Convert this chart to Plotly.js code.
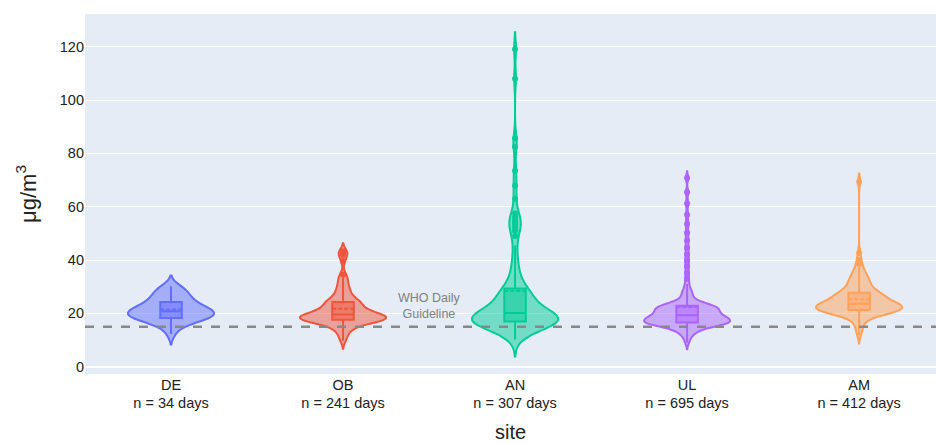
<!DOCTYPE html>
<html>
<head>
<meta charset="utf-8">
<script src="https://cdn.plot.ly/plotly-3.0.1.min.js"></script>
<style>html,body{margin:0;padding:0;background:#fff;overflow:hidden}</style>
</head>
<body>
<div id="chart" style="width:936px;height:443px"></div>
<script>
const categories = ['DE', 'OB', 'AN', 'UL', 'AM'];
const dayCounts = [34, 241, 307, 695, 412];
const guidelineValue = 15;

const valuesDE = [12.3, 14.8, 16.0, 16.9, 17.4, 17.8, 18.0, 18.2, 18.3, 18.6,
  19.0, 19.4, 19.8, 20.1, 20.4, 20.6, 20.7, 20.8, 21.2, 21.6, 22.0, 22.3, 22.7,
  23.3, 23.8, 24.3, 24.9, 25.6, 26.3, 27.0, 27.8, 28.6, 29.4, 30.2];

const valuesOB = [9.7, 11.2, 12.4, 13.3, 14.0, 14.6, 15.1, 15.5, 15.9, 16.2,
  16.5, 16.7, 16.9, 17.0, 17.1, 17.2, 17.3, 17.4, 17.5, 17.6,
  17.7, 17.8, 17.9, 18.0, 18.1, 18.2, 18.3, 18.4, 18.5, 18.6,
  18.7, 18.8, 18.9, 19.0, 19.1, 19.3, 19.4, 19.5, 19.6, 19.7,
  19.9, 20.1, 20.3, 20.5, 20.7, 20.9, 21.1, 21.3, 21.6, 21.9,
  22.2, 22.5, 22.8, 23.1, 23.4, 23.7, 24.0, 24.2, 24.4, 24.5,
  24.9, 25.4, 25.9, 26.5, 27.1, 27.8, 28.5, 29.3, 30.2, 31.2,
  32.3, 33.5, 34.6, 39.6, 41.9, 42.6, 43.3];

const valuesAN = [10.2, 11.5, 12.3, 12.9, 13.4, 13.8, 14.1, 14.4, 14.7, 15.0,
  15.2, 15.4, 15.6, 15.8, 16.0, 16.1, 16.2, 16.3, 16.4, 16.5,
  16.6, 16.7, 16.8, 16.85, 16.9,
  16.95, 17.1, 17.2, 17.35, 17.5, 17.6, 17.75, 17.9, 18.0, 18.15, 18.3, 18.4, 18.55,
  18.7, 18.8, 18.95, 19.1, 19.2, 19.35, 19.5, 19.6, 19.75, 19.9, 20.0, 20.05, 20.15,
  20.4, 20.8, 21.1, 21.5, 21.9, 22.2, 22.6, 23.0, 23.3, 23.7, 24.1, 24.4, 24.8,
  25.2, 25.5, 25.9, 26.3, 26.6, 27.0, 27.4, 27.8, 28.2, 28.6, 29.1, 29.6,
  30.3, 31.2, 32.4, 33.8, 35.3, 37.0, 39.2, 42.0, 45.5,
  49.0, 51.0, 52.3, 53.4, 54.2, 55.0, 56.1, 57.5,
  63.0, 68.0, 73.5, 82.5, 85.7, 108.0, 119.1];

const valuesUL = [9.0, 10.5, 11.5, 12.3, 12.9, 13.4, 13.8, 14.1, 14.4, 14.7,
  14.9, 15.1, 15.3, 15.5, 15.6, 15.7, 15.8, 15.9, 16.0, 16.1,
  16.15, 16.2, 16.25, 16.3, 16.35, 16.4, 16.5, 16.55, 16.6, 16.65, 16.75,
  16.85, 16.95, 17.05, 17.15, 17.25, 17.35, 17.45, 17.55, 17.65, 17.75, 17.85, 17.95,
  18.05, 18.15, 18.25, 18.35, 18.45, 18.55, 18.65, 18.75, 18.85, 18.95, 19.05, 19.15,
  19.25, 19.35, 19.45, 19.55, 19.65,
  19.95, 20.1, 20.2, 20.35, 20.45, 20.6, 20.7, 20.85, 20.95, 21.1, 21.2, 21.35, 21.45,
  21.6, 21.7, 21.85, 21.95, 22.1, 22.2, 22.35, 22.45, 22.6, 22.7, 22.85, 22.95, 23.1,
  23.2, 23.35, 23.45, 23.6,
  23.9, 24.3, 24.9, 25.6, 26.4, 27.3, 28.3, 29.5, 31.0, 33.0,
  13.0, 15.2, 17.9, 18.6, 20.9, 22.4, 25.0, 27.8,
  35.2, 37.6, 39.8, 42.1, 44.6, 47.3, 50.2, 53.5, 57.0, 61.2, 65.4, 70.8];

const valuesAM = [11.9, 13.6, 15.0, 16.1, 17.0, 17.7, 18.3, 18.8, 19.2, 19.5,
  19.7, 19.85, 20.0, 20.1, 20.2, 20.3, 20.4, 20.5, 20.6, 20.7, 20.8, 20.9, 21.0, 21.1, 21.2,
  21.35, 21.45, 21.55, 21.65, 21.75, 21.85, 21.95, 22.05, 22.1, 22.2, 22.3, 22.4, 22.5,
  22.6, 22.7, 22.8, 22.85, 22.95, 23.05, 23.1, 23.2, 23.3, 23.4, 23.45, 23.55, 23.65,
  23.8, 23.95, 24.1, 24.3, 24.45, 24.6, 24.8, 24.95, 25.1, 25.3, 25.45, 25.6, 25.8,
  25.95, 26.1, 26.3, 26.45, 26.6, 26.8, 26.95, 27.1, 27.3, 27.45, 27.6, 27.9,
  28.2, 28.5, 28.8, 29.1, 29.4, 29.8, 30.1, 30.5, 30.9, 31.3, 31.8, 32.3, 32.8,
  33.1, 33.4, 34.0, 34.7, 35.4, 36.2, 37.0, 38.4, 40.0, 42.6, 69.3];

const siteValues = [valuesDE, valuesOB, valuesAN, valuesUL, valuesAM];
const colors = ['#636efa', '#EF553B', '#00cc96', '#ab63fa', '#FFA15A'];
const bandwidths = [2.0, 1.5, 3.2, 1.25, 1.6];

const tickText = categories.map((c, i) => c + '<br>n = ' + dayCounts[i] + ' days');

const traces = categories.map((cat, i) => ({
  type: 'violin',
  x: siteValues[i].map(() => cat),
  y: siteValues[i],
  name: cat,
  line: {color: colors[i], width: 2},
  marker: {color: colors[i], size: 6},
  box: {visible: true, width: 0.25},
  meanline: {visible: true},
  points: 'outliers',
  jitter: 0,
  pointpos: 0,
  width: 0.5,
  bandwidth: bandwidths[i],
  showlegend: false,
  hoverinfo: 'skip'
}));

const font = 'Liberation Sans, Arial, Helvetica, sans-serif';

const layout = {
  width: 936,
  height: 443,
  margin: {l: 85, r: 0, t: 14, b: 69},
  paper_bgcolor: '#ffffff',
  plot_bgcolor: '#E5ECF6',
  font: {family: font, size: 14.5, color: '#222'},
  showlegend: false,
  xaxis: {
    type: 'category',
    categoryorder: 'array',
    categoryarray: categories,
    tickvals: categories,
    ticktext: tickText,
    range: [-0.5, 4.447],
    showgrid: false,
    zeroline: false,
    tickfont: {size: 14.5, color: '#222'},
    title: {text: 'site', font: {size: 20, color: '#222'}, standoff: 15},
    automargin: false
  },
  yaxis: {
    range: [-2.75, 132.3],
    tickvals: [0, 20, 40, 60, 80, 100, 120],
    gridcolor: '#ffffff',
    gridwidth: 1,
    zeroline: true,
    zerolinecolor: '#ffffff',
    zerolinewidth: 2,
    tickfont: {size: 14.5, color: '#222'},
    title: {text: 'μg/m<sup>3</sup>', font: {size: 22, color: '#222'}, standoff: 17},
    automargin: false
  },
  shapes: [{
    type: 'line',
    xref: 'paper', x0: 0, x1: 1,
    yref: 'y', y0: guidelineValue, y1: guidelineValue,
    line: {color: '#888888', width: 2.5, dash: 'dash'},
    layer: 'above'
  }],
  annotations: [{
    x: 1.5, xref: 'x',
    y: guidelineValue, yref: 'y',
    yanchor: 'bottom',
    yshift: 4,
    text: 'WHO Daily<br>Guideline',
    showarrow: false,
    align: 'center',
    font: {family: font, size: 12.5, color: '#7f7f7f'}
  }]
};

Plotly.newPlot('chart', traces, layout, {displayModeBar: false, staticPlot: true});
</script>
</body>
</html>
